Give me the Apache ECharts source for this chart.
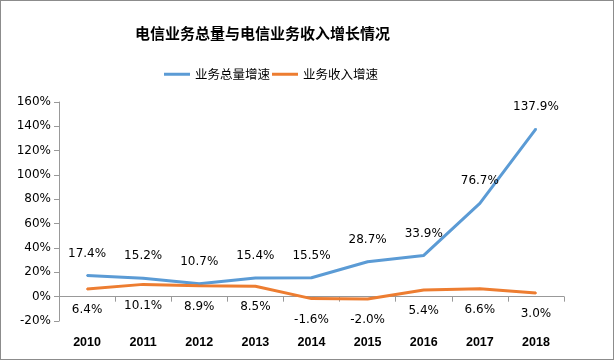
<!DOCTYPE html>
<html><head><meta charset="utf-8">
<script src="https://cdn.jsdelivr.net/npm/echarts@6/dist/echarts.min.js"></script>
<style>html,body{margin:0;padding:0;background:#fff}#c{width:612px;height:358px;border:1px solid #8c8c8c}</style>
</head><body><div id="c"></div>
<script>
var categories = ['2010','2011','2012','2013','2014','2015','2016','2017','2018'];
var totalGrowth = [17.4, 15.2, 10.7, 15.4, 15.5, 28.7, 33.9, 76.7, 137.9];
var incomeGrowth = [6.4, 10.1, 8.9, 8.5, -1.6, -2.0, 5.4, 6.6, 3.0];
var seriesNames = ['业务总量增速', '业务收入增速'];
var titleText = '电信业务总量与电信业务收入增长情况';

var chart = echarts.init(document.getElementById('c'));
var numFont = 'DejaVu Sans, Verdana, sans-serif';
function pct(p){ return p.value.toFixed(1) + '%'; }
chart.setOption({
  animation: false,
  title: {text: titleText, left: 129, top: 20,
    textStyle: {fontFamily: 'Noto Sans CJK SC', fontSize: 15, fontWeight: 'bold', color: '#000'}},
  legend: {left: 158, top: 62, itemWidth: 26, itemHeight: 3, itemGap: 2, icon: 'rect',
    textStyle: {fontFamily: 'Noto Sans CJK SC', fontSize: 12.5, color: '#000'},
    data: seriesNames},
  grid: {left: 58, right: 49, top: 101, bottom: 38},
  xAxis: {type: 'category', data: categories, boundaryGap: true,
    axisLine: {lineStyle: {color: '#999'}},
    axisTick: {show: true, alignWithLabel: false, length: 5, lineStyle: {color: '#999'}},
    axisLabel: {fontFamily: 'Liberation Sans, Arial, sans-serif', fontSize: 12.5, fontWeight: 'bold', color: '#000', margin: 15}},
  yAxis: {type: 'value', min: -20, max: 160, interval: 20,
    axisLine: {show: true, lineStyle: {color: '#999'}},
    axisTick: {show: true, length: 5, lineStyle: {color: '#999'}},
    splitLine: {show: false},
    axisLabel: {fontFamily: numFont, fontSize: 12, color: '#000', margin: 8, formatter: '{value}%'}},
  series: [
    {name: seriesNames[0], type: 'line', data: totalGrowth, symbol: 'circle', symbolSize: 2, showSymbol: true,
     lineStyle: {width: 3, color: '#5B9BD5'}, itemStyle: {color: '#5B9BD5'},
     label: {show: true, position: 'top', distance: 15, formatter: pct,
       fontFamily: numFont, fontSize: 12, color: '#000'}},
    {name: seriesNames[1], type: 'line', data: incomeGrowth, symbol: 'circle', symbolSize: 2, showSymbol: true,
     lineStyle: {width: 3, color: '#ED7D31'}, itemStyle: {color: '#ED7D31'},
     label: {show: true, position: 'bottom', distance: 14, formatter: pct,
       fontFamily: numFont, fontSize: 12, color: '#000'}}
  ]
});
</script></body></html>
